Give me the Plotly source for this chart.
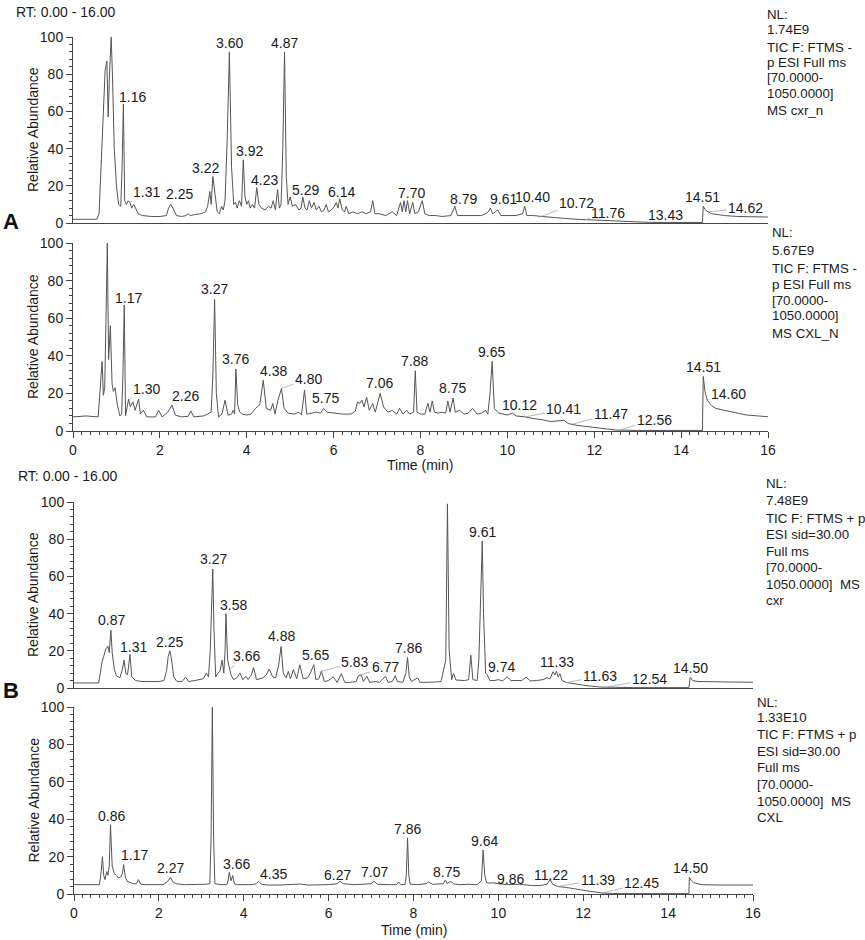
import plotly.graph_objects as go

W, H = 865, 940


def px(x):
    return x / W


def py(y):
    return 1 - y / H


FONT = "Arial, Liberation Sans, sans-serif"
TXT = "#1a1a1a"
LINE = "#555555"
FS = 14
FS_INFO = 13.3

# ---------------- Panel A, top (cxr_n) ----------------
a1_rt = [0, 0.55, 0.6, 0.65, 0.7, 0.74, 0.78, 0.81, 0.84, 0.88,
         0.91, 0.95, 1.0, 1.05, 1.1, 1.13, 1.16, 1.19, 1.23, 1.27,
         1.31, 1.35, 1.4, 1.45, 1.5, 1.6, 1.8, 2.0, 2.15, 2.2,
         2.25, 2.3, 2.38, 2.5, 2.6, 2.65, 2.7, 2.8, 2.95, 3.05,
         3.1, 3.15, 3.18, 3.22, 3.27, 3.32, 3.37, 3.42, 3.46, 3.5,
         3.55, 3.6, 3.65, 3.7, 3.74, 3.78, 3.83, 3.88, 3.92, 3.96,
         4.0, 4.04, 4.08, 4.13, 4.18, 4.23, 4.28, 4.34, 4.42, 4.5,
         4.56, 4.61, 4.66, 4.71, 4.75, 4.79, 4.83, 4.87, 4.91, 4.95,
         5.0, 5.05, 5.12, 5.2, 5.25, 5.29, 5.34, 5.39, 5.44, 5.49,
         5.55, 5.6, 5.66, 5.72, 5.78, 5.83, 5.88, 5.95, 6.02, 6.06,
         6.1, 6.14, 6.2, 6.25, 6.29, 6.35, 6.45, 6.55, 6.65, 6.75,
         6.85, 6.9, 6.95, 7.05, 7.2, 7.35, 7.45, 7.54, 7.58, 7.62,
         7.66, 7.7, 7.75, 7.82, 7.87, 7.95, 8.04, 8.1, 8.2, 8.35,
         8.5, 8.7, 8.79, 8.85, 9.0, 9.2, 9.4, 9.5, 9.56, 9.61,
         9.66, 9.72, 9.78, 9.85, 10.0, 10.2, 10.35, 10.4, 10.45, 10.6,
         10.8, 11.0, 11.3, 11.6, 12.0, 12.4, 12.8, 13.2, 13.6, 14.0,
         14.49, 14.51, 14.56, 14.62, 14.7, 14.85, 15.0, 15.3, 15.6, 16.0]
a1_ab = [2, 2, 5, 30, 60, 82, 87, 57, 80, 100,
         78, 40, 20, 10, 9, 30, 64, 12, 10, 12,
         11, 8, 10, 7, 5, 4, 3.5, 3.5, 4, 8,
         10, 8, 4, 3.5, 4, 5, 4, 4.5, 5, 6,
         9, 17, 10, 25, 14, 6, 5, 9, 7, 12,
         45, 92, 30, 10, 11, 8, 12, 9, 34, 14,
         10, 12, 8, 10, 8, 19, 10, 8, 7, 9,
         8, 12, 7, 18, 8, 10, 40, 92, 25, 10,
         14, 9, 10, 7, 8, 14, 8, 7, 12, 8,
         11, 7, 9, 6, 7, 10, 6, 7, 9, 11,
         8, 13, 7, 6, 9, 5, 6, 5, 6, 5,
         6, 12, 5, 5, 4, 6, 4, 11, 6, 12,
         6, 12, 5, 11, 5, 6, 12, 5, 4, 4,
         3.5, 4, 9, 4, 4, 4, 4, 5, 6, 8,
         5, 6, 7, 4, 4, 4, 5, 9, 4, 4,
         3.5, 3, 2.5, 2, 1.5, 1, 0.6, 0.4, 0.3, 0.3,
         0.3, 9, 7, 6, 5, 4.5, 4, 3.5, 3.5, 3.2]
a1_lbl = ["0.88", "1.16", "1.31", "2.25", "3.22", "3.60", "3.92", "4.23", "4.87", "5.29",
          "6.14", "7.70", "8.79", "9.61", "10.40", "10.72", "11.76", "13.43", "14.51", "14.62"]
a1_lbl_ab = [100, 64, 11, 10, 25, 92, 34, 19, 92, 14,
             13, 12, 9, 8, 9, 3, 1.5, 0.4, 9, 6]
a1_lbl_x = [0.875, 1.38, 1.70, 2.46, 3.06, 3.60, 4.07, 4.42, 4.86, 5.36,
            6.19, 7.80, 8.98, 9.90, 10.57, 11.60, 12.32, 13.65, 14.50, 15.49]
a1_lbl_y = [104.8, 67.7, 16.7, 15.6, 29.6, 96.8, 38.7, 23.1, 96.8, 17.7,
            16.7, 16.1, 12.9, 12.9, 14, 10.8, 5.4, 4.3, 14, 8]
a1_info = ["NL:", "1.74E9", "TIC F: FTMS -", "p ESI Full ms", "[70.0000-", "1050.0000]", "MS cxr_n"]

# ---------------- Panel A, bottom (CXL_N) ----------------
a2_rt = [0, 0.3, 0.58, 0.62, 0.67, 0.7, 0.73, 0.76, 0.79, 0.82,
         0.86, 0.9, 0.93, 0.97, 1.02, 1.08, 1.12, 1.15, 1.18, 1.21,
         1.28, 1.32, 1.38, 1.43, 1.51, 1.55, 1.62, 1.7, 1.9, 1.97,
         2.05, 2.18, 2.28, 2.36, 2.5, 2.65, 2.71, 2.78, 3.0, 3.1,
         3.18, 3.22, 3.26, 3.3, 3.35, 3.43, 3.5, 3.57, 3.65, 3.69,
         3.72, 3.75, 3.79, 3.84, 3.9, 4.0, 4.1, 4.2, 4.3, 4.38,
         4.45, 4.55, 4.6, 4.65, 4.72, 4.8, 4.86, 4.95, 5.1, 5.2,
         5.26, 5.33, 5.38, 5.5, 5.6, 5.7, 5.77, 5.85, 6.0, 6.2,
         6.4, 6.5, 6.55, 6.6, 6.65, 6.7, 6.76, 6.82, 6.9, 6.96,
         7.07, 7.15, 7.25, 7.35, 7.45, 7.52, 7.6, 7.68, 7.75, 7.84,
         7.88, 7.92, 8.0, 8.1, 8.17, 8.22, 8.27, 8.32, 8.4, 8.5,
         8.58, 8.63, 8.68, 8.75, 8.8, 8.9, 9.0, 9.1, 9.2, 9.3,
         9.4, 9.5, 9.55, 9.6, 9.65, 9.7, 9.8, 10.0, 10.12, 10.2,
         10.41, 10.5, 10.8, 11.0, 11.3, 11.4, 11.6, 12.0, 12.5, 13.0,
         14.49, 14.51, 14.55, 14.6, 14.7, 14.8, 15.0, 15.5, 16.0]
a2_ab = [7.5, 8, 7.5, 20, 37, 19, 23, 60, 100, 38,
         56, 25, 21, 23, 14, 8, 9, 30, 67, 8,
         17, 13, 15.5, 11, 17, 9, 11, 7.5, 7.5, 11,
         7.5, 10, 13.7, 8.4, 7.5, 7.8, 10.7, 7.5, 8, 9,
         10, 30, 70, 20, 7.5, 9, 16.4, 8.4, 9, 11,
         9, 33, 14, 10, 9, 8.5, 9, 12, 14, 27,
         12, 11, 14.6, 9, 16.4, 22.6, 12, 9.5, 9, 10,
         8.5, 21.7, 9, 9.5, 10, 9.5, 12, 10, 9.5, 9,
         9, 10.5, 15.5, 14.6, 16.4, 12.8, 18, 11, 14.6, 10,
         20, 12.8, 10, 11, 9, 12, 9, 11, 9, 10,
         32, 10, 9, 9, 14.8, 10, 16, 10, 9.5, 10,
         9.5, 16, 10, 17.5, 10, 11, 9, 9.5, 12, 9,
         9.5, 11, 9, 20, 37, 12, 9.5, 8.5, 9.5, 8,
         7.5, 7, 6, 5, 5.7, 4, 3, 2, 0.5, 0.3,
         0.3, 29, 21, 16.5, 13.5, 12, 11, 8.5, 7.6]
a2_lbl = ["0.79", "1.17", "1.30", "2.26", "3.27", "3.76", "4.38", "4.80", "5.75", "7.06",
          "7.88", "8.75", "9.65", "10.12", "10.41", "11.47", "12.56", "14.51", "14.60"]
a2_lbl_ab = [100, 67, 17, 13.7, 70, 33, 27, 22.6, 12, 20,
             32, 17.5, 37, 9.5, 7.5, 3.5, 0.4, 29, 16.5]
a2_lbl_x = [0.80, 1.28, 1.70, 2.58, 3.26, 3.75, 4.61, 5.42, 5.82, 7.05,
            7.87, 8.73, 9.64, 10.27, 11.30, 12.38, 13.38, 14.51, 15.09]
a2_lbl_y = [105, 70.6, 22.6, 18.7, 75.4, 38.3, 32, 27.9, 17.8, 25.3,
            37.4, 22.7, 41.8, 13.8, 11.5, 9, 5.9, 34.2, 19.7]
a2_info = ["NL:", "5.67E9", "TIC F: FTMS -", "p ESI Full ms", "[70.0000-", "1050.0000]", "MS CXL_N"]

# ---------------- Panel B, top (cxr) ----------------
b1_rt = [0, 0.58, 0.62, 0.66, 0.7, 0.75, 0.8, 0.83, 0.87, 0.9,
         0.95, 1.0, 1.08, 1.14, 1.18, 1.22, 1.26, 1.29, 1.32, 1.36,
         1.45, 1.6, 1.8, 2.0, 2.12, 2.18, 2.22, 2.26, 2.3, 2.35,
         2.42, 2.55, 2.63, 2.7, 2.85, 2.95, 3.05, 3.12, 3.17, 3.21,
         3.24, 3.27, 3.3, 3.34, 3.39, 3.44, 3.49, 3.53, 3.56, 3.58,
         3.62, 3.66, 3.7, 3.76, 3.84, 3.91, 3.98, 4.05, 4.1, 4.18,
         4.23, 4.3, 4.45, 4.53, 4.6, 4.68, 4.75, 4.82, 4.88, 4.93,
         5.0, 5.05, 5.1, 5.17, 5.25, 5.32, 5.4, 5.5, 5.57, 5.65,
         5.7, 5.77, 5.83, 5.9, 6.0, 6.11, 6.2, 6.3, 6.38, 6.5,
         6.65, 6.7, 6.77, 6.82, 6.9, 6.97, 7.1, 7.2, 7.34, 7.4,
         7.5, 7.57, 7.62, 7.75, 7.82, 7.86, 7.9, 7.95, 8.1, 8.15,
         8.3, 8.5, 8.65, 8.76, 8.8, 8.84, 8.9, 8.94, 9.0, 9.2,
         9.3, 9.35, 9.4, 9.5, 9.54, 9.58, 9.62, 9.65, 9.7, 9.74,
         9.8, 9.9, 10.0, 10.1, 10.2, 10.3, 10.45, 10.55, 10.65, 10.75,
         10.9, 11.05, 11.15, 11.22, 11.29, 11.33, 11.37, 11.41, 11.45, 11.5,
         11.6, 11.8, 12.0, 12.4, 12.8, 13.2, 14.0, 14.49, 14.52, 14.58,
         14.7, 15.0, 15.5, 16.0]
b1_ab = [2.7, 2.7, 8, 14, 17, 21, 22.5, 19, 31, 19,
         10, 6.5, 5.5, 10, 15, 8, 7, 12, 18, 6,
         4, 3.5, 3.5, 3.5, 4, 9, 17, 20, 15, 6,
         3.6, 3.5, 5.9, 3.5, 4, 4.5, 5, 8, 6, 20,
         45, 64, 30, 6, 8, 9, 15, 8, 20, 40,
         15, 10, 7, 4.5, 5.5, 8, 4.5, 6.3, 4.5, 7,
         11, 4.5, 5.4, 7, 10.2, 6, 5.4, 12, 22.3, 8,
         5.4, 9, 5, 9.8, 5, 12.5, 5, 5.4, 8, 12.5,
         4.5, 5, 9, 3.5, 4, 6, 3, 7.7, 3, 3,
         3.5, 6.5, 7.1, 3.5, 6.3, 3, 3.5, 3, 6.3, 3,
         3.5, 6.6, 3.5, 3, 8, 16.4, 6, 3.5, 5.5, 3,
         3, 3.2, 3.5, 15, 99, 20, 4.5, 7.9, 4.3, 4,
         4.5, 17.7, 4.5, 4, 15, 45, 79, 40, 8, 7,
         4, 4, 4.5, 3.8, 6, 4, 3.8, 4, 5.9, 3.8,
         4, 4.5, 5.5, 5, 8.8, 7, 9, 6, 7.7, 4,
         3, 2.2, 1.5, 0.5, 0.3, 0.2, 0.2, 0.2, 5.7, 4,
         3.5, 3.3, 3.2, 3.1]
b1_lbl = ["0.87", "1.31", "2.25", "3.27", "3.58", "3.66", "4.88", "5.65", "5.83", "6.77",
          "7.86", "8.80", "9.61", "9.74", "11.33", "11.63", "12.54", "14.50"]
b1_lbl_ab = [31, 18, 20, 64, 40, 10, 22.3, 12.5, 9, 7.1,
             16.4, 99, 79, 7, 9, 3, 0.5, 5.7]
b1_lbl_x = [0.89, 1.40, 2.26, 3.28, 3.75, 4.07, 4.88, 5.68, 6.62, 7.33,
            7.88, 8.82, 9.62, 10.08, 11.37, 12.39, 13.57, 14.53]
b1_lbl_y = [36.3, 22.3, 25, 69.6, 44.6, 17.3, 27.7, 17.9, 13.75, 11.25,
            21.4, 105.5, 84, 11.5, 14.2, 6.5, 4.7, 10.6]
b1_info = ["NL:", "7.48E9", "TIC F: FTMS + p", "ESI sid=30.00", "Full ms", "[70.0000-",
           "1050.0000]\u00a0\u00a0MS", "cxr"]

# ---------------- Panel B, bottom (CXL) ----------------
b2_rt = [0, 0.6, 0.64, 0.67, 0.7, 0.73, 0.77, 0.8, 0.83, 0.86,
         0.9, 0.95, 1.0, 1.05, 1.1, 1.14, 1.17, 1.21, 1.25, 1.32,
         1.4, 1.47, 1.52, 1.57, 1.65, 1.9, 2.1, 2.2, 2.27, 2.33,
         2.4, 2.6, 2.9, 3.1, 3.2, 3.23, 3.26, 3.29, 3.32, 3.45,
         3.6, 3.63, 3.66, 3.7, 3.74, 3.78, 3.85, 4.0, 4.2, 4.3,
         4.35, 4.42, 4.55, 4.8, 5.0, 5.2, 5.35, 5.5, 5.8, 6.0,
         6.2, 6.27, 6.35, 6.6, 6.8, 7.0, 7.07, 7.15, 7.4, 7.6,
         7.65, 7.7, 7.8, 7.83, 7.86, 7.89, 7.92, 8.1, 8.3, 8.35,
         8.45, 8.6, 8.7, 8.75, 8.8, 8.85, 8.9, 8.95, 9.1, 9.3,
         9.5, 9.6, 9.64, 9.68, 9.72, 9.8, 9.86, 10.0, 10.2, 10.5,
         10.8, 11.0, 11.15, 11.22, 11.28, 11.39, 11.6, 12.0, 12.45, 12.8,
         14.49, 14.5, 14.55, 14.6, 14.8, 15.2, 16.0]
b2_ab = [5, 5, 12, 20, 10, 7.7, 12, 10, 15, 37,
         15, 11, 10, 8.6, 9, 11, 15.7, 9, 6.8, 6.2,
         5.5, 5.5, 7.7, 5.3, 5, 5, 5, 6.5, 8.9, 6.5,
         5.5, 5, 5, 5.2, 5.5, 30, 100, 30, 5.5, 5,
         5, 7, 11.6, 7.1, 9.8, 5.5, 5, 5, 5, 5.5,
         6.8, 5.2, 4.8, 4.8, 5, 4.8, 5.3, 4.8, 4.8, 5,
         5.5, 6.8, 5.5, 5, 5.2, 5.5, 6.8, 5.2, 5, 5,
         6.4, 5, 5, 10, 30, 10, 5.3, 5, 5.5, 6.4,
         5.2, 5.5, 5.5, 7.5, 5.5, 6.5, 6.5, 5.3, 5, 5.2,
         5, 7, 23.5, 10, 6.1, 5.8, 6, 5.5, 5, 5.2,
         4.5, 4.5, 5.3, 7.8, 5.2, 4, 3.5, 2, 0.5, 0.2,
         0.2, 8.9, 7, 6, 5, 4.8, 4.8]
b2_lbl = ["0.86", "1.17", "2.27", "3.26", "3.66", "4.35", "6.27", "7.07", "7.86", "8.75",
          "9.64", "9.86", "11.22", "11.39", "12.45", "14.50"]
b2_lbl_ab = [37, 15.7, 8.9, 100, 11.6, 6.8, 6.8, 6.8, 30, 7.5,
             23.5, 6, 7.8, 4, 0.5, 8.9]
b2_lbl_x = [0.89, 1.42, 2.27, 3.26, 3.84, 4.69, 6.21, 7.08, 7.86, 8.77,
            9.67, 10.29, 11.24, 12.34, 13.38, 14.53]
b2_lbl_y = [41.9, 21, 13.9, 105.3, 16.2, 10.9, 10.3, 11.6, 34.8, 11.9,
            28.5, 8, 10.2, 7.5, 5.7, 13.7]
b2_info = ["NL:", "1.33E10", "TIC F: FTMS + p", "ESI sid=30.00", "Full ms", "[70.0000-",
           "1050.0000]\u00a0\u00a0MS", "CXL"]

# ---------------- layout geometry (pixels) ----------------
panels = [
    dict(rt=a1_rt, ab=a1_ab, lbl=a1_lbl, lab=a1_lbl_ab, lx=a1_lbl_x, ly=a1_lbl_y, info=a1_info,
         xa="x", ya="y", xd=(73, 768), yd=(37, 223), bottom=False,
         info_x=765, info_y=[15, 30, 47, 62, 78, 93, 110]),
    dict(rt=a2_rt, ab=a2_ab, lbl=a2_lbl, lab=a2_lbl_ab, lx=a2_lbl_x, ly=a2_lbl_y, info=a2_info,
         xa="x2", ya="y2", xd=(73, 768), yd=(243, 431), bottom=True,
         info_x=770, info_y=[233, 250, 268, 284, 300, 316, 333]),
    dict(rt=b1_rt, ab=b1_ab, lbl=b1_lbl, lab=b1_lbl_ab, lx=b1_lbl_x, ly=b1_lbl_y, info=b1_info,
         xa="x3", ya="y3", xd=(74, 753), yd=(502, 688), bottom=False,
         info_x=764, info_y=[484, 500, 518, 534, 551, 567, 584, 600]),
    dict(rt=b2_rt, ab=b2_ab, lbl=b2_lbl, lab=b2_lbl_ab, lx=b2_lbl_x, ly=b2_lbl_y, info=b2_info,
         xa="x4", ya="y4", xd=(74, 753), yd=(707, 894), bottom=True,
         info_x=755, info_y=[702, 717, 734, 751, 767, 784, 801, 817]),
]

fig = go.Figure()
annotations = []
layout = {}

for i, p in enumerate(panels):
    fig.add_trace(go.Scatter(x=p["rt"], y=p["ab"], mode="lines", xaxis=p["xa"], yaxis=p["ya"],
                             line=dict(color=LINE, width=1), showlegend=False, hoverinfo="skip"))
    xkey = "xaxis" if p["xa"] == "x" else "xaxis" + p["xa"][1:]
    ykey = "yaxis" if p["ya"] == "y" else "yaxis" + p["ya"][1:]
    xax = dict(domain=[px(p["xd"][0]), px(p["xd"][1])], range=[0, 16], anchor=p["ya"],
               showline=True, linecolor="#444", linewidth=1, showgrid=False, zeroline=False,
               fixedrange=True, automargin=False)
    if p["bottom"]:
        xax.update(ticks="outside", tickmode="linear", tick0=0, dtick=2, ticklen=6, tickwidth=1,
                   tickcolor="#444", showticklabels=True,
                   tickfont=dict(family=FONT, size=FS, color=TXT),
                   minor=dict(ticks="outside", dtick=0.2, ticklen=3, tickcolor="#444", tickwidth=1))
    else:
        xax.update(ticks="", showticklabels=False)
    layout[xkey] = xax
    layout[ykey] = dict(domain=[py(p["yd"][1]), py(p["yd"][0])], range=[0, 100], anchor=p["xa"],
                        showline=True, linecolor="#444", linewidth=1, showgrid=False, zeroline=False,
                        ticks="outside", tickmode="linear", tick0=0, dtick=20, ticklen=6,
                        tickcolor="#444", tickfont=dict(family=FONT, size=FS, color=TXT),
                        minor=dict(ticks="outside", dtick=4, ticklen=3, tickcolor="#444", tickwidth=1),
                        fixedrange=True, automargin=False)

    # y-axis title
    annotations.append(dict(text="Relative Abundance", xref="paper", yref="paper",
                            x=px(33), y=py((p["yd"][0] + p["yd"][1]) / 2), textangle=-90,
                            showarrow=False, xanchor="center", yanchor="middle",
                            font=dict(family=FONT, size=FS, color=TXT)))

    # peak labels
    for txt, pk, tx, ty in zip(p["lbl"], p["lab"], p["lx"], p["ly"]):
        rt = float(txt)
        if abs(tx - rt) > 0.12:
            annotations.append(dict(text=txt, xref=p["xa"], yref=p["ya"], axref=p["xa"], ayref=p["ya"],
                                    x=rt, y=pk, ax=tx, ay=ty, showarrow=True, arrowhead=0,
                                    arrowwidth=0.7, arrowcolor="#999", standoff=0, startstandoff=0,
                                    font=dict(family=FONT, size=FS, color=TXT)))
        else:
            annotations.append(dict(text=txt, xref=p["xa"], yref=p["ya"], x=tx, y=ty,
                                    showarrow=False, xanchor="center", yanchor="middle",
                                    font=dict(family=FONT, size=FS, color=TXT)))

    # right-hand info text
    for line, yy in zip(p["info"], p["info_y"]):
        annotations.append(dict(text=line, xref="paper", yref="paper", x=px(p["info_x"]), y=py(yy),
                                showarrow=False, xanchor="left", yanchor="middle",
                                font=dict(family=FONT, size=FS_INFO, color=TXT)))

# Time axis titles
annotations.append(dict(text="Time (min)", xref="paper", yref="paper", x=px(420), y=py(465),
                        showarrow=False, xanchor="center", yanchor="middle",
                        font=dict(family=FONT, size=FS, color=TXT)))
annotations.append(dict(text="Time (min)", xref="paper", yref="paper", x=px(414), y=py(930),
                        showarrow=False, xanchor="center", yanchor="middle",
                        font=dict(family=FONT, size=FS, color=TXT)))
# RT range headers
annotations.append(dict(text="RT: 0.00 - 16.00", xref="paper", yref="paper", x=px(14), y=py(12),
                        showarrow=False, xanchor="left", yanchor="middle",
                        font=dict(family=FONT, size=FS, color=TXT)))
annotations.append(dict(text="RT: 0.00 - 16.00", xref="paper", yref="paper", x=px(16), y=py(476),
                        showarrow=False, xanchor="left", yanchor="middle",
                        font=dict(family=FONT, size=FS, color=TXT)))
# panel letters
annotations.append(dict(text="<b>A</b>", xref="paper", yref="paper", x=px(11), y=py(221),
                        showarrow=False, xanchor="center", yanchor="middle",
                        font=dict(family=FONT, size=22, color="#111")))
annotations.append(dict(text="<b>B</b>", xref="paper", yref="paper", x=px(11), y=py(690),
                        showarrow=False, xanchor="center", yanchor="middle",
                        font=dict(family=FONT, size=22, color="#111")))

fig.update_layout(width=W, height=H, margin=dict(l=0, r=0, t=0, b=0, pad=0, autoexpand=False),
                  paper_bgcolor="white", plot_bgcolor="white",
                  annotations=annotations, showlegend=False, **layout)

fig.write_html("out.html", config={"displayModeBar": False},
               post_script="document.body.style.margin='0';document.body.style.overflow='hidden';")
